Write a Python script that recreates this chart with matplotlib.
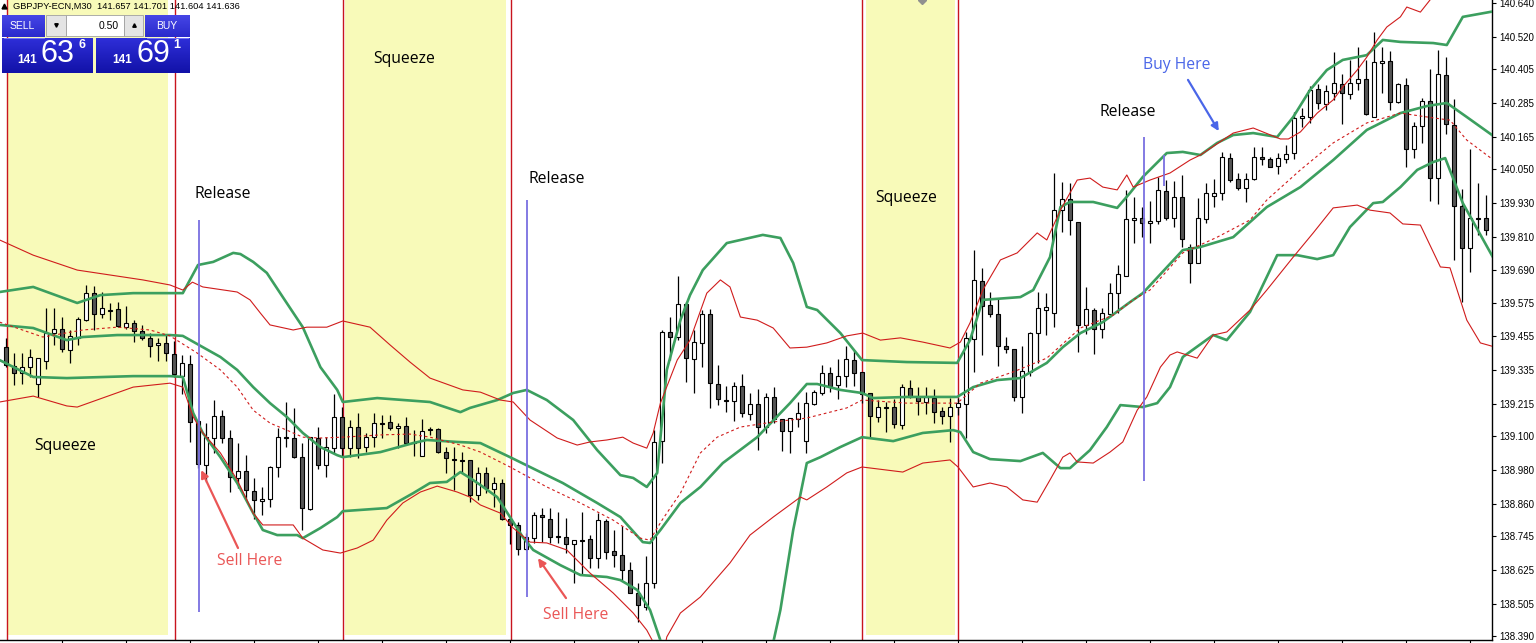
import numpy as np
import matplotlib
matplotlib.use("Agg")
import matplotlib.pyplot as plt
from matplotlib.patches import Rectangle
from matplotlib.colors import LinearSegmentedColormap

# GBPJPY M30 candles
opens = [139.418, 139.350, 139.325, 139.347, 139.286, 139.368, 139.467, 139.481, 139.407, 139.450,
	139.513, 139.609, 139.535, 139.545, 139.552, 139.489, 139.503, 139.474, 139.450, 139.425,
	139.432, 139.393, 139.315, 139.357, 139.154, 138.998, 139.094, 139.172, 139.094, 138.952,
	138.977, 138.906, 138.870, 138.877, 138.991, 139.094, 139.094, 139.026, 138.842, 139.094,
	138.998, 139.058, 139.169, 139.058, 139.133, 139.062, 139.097, 139.147, 139.151, 139.129,
	139.137, 139.080, 139.030, 139.126, 139.126, 139.044, 139.019, 139.016, 139.016, 138.891,
	138.970, 138.913, 138.934, 138.806, 138.785, 138.699, 138.738, 138.820, 138.806, 138.746,
	138.742, 138.717, 138.731, 138.735, 138.667, 138.799, 138.692, 138.678, 138.625, 138.543,
	138.493, 138.578, 139.083, 139.471, 139.453, 139.570, 139.375, 139.432, 139.535, 139.286,
	139.229, 139.225, 139.279, 139.179, 139.215, 139.133, 139.240, 139.161, 139.119, 139.161,
	139.083, 139.215, 139.254, 139.325, 139.282, 139.314, 139.371, 139.329, 139.254, 139.169,
	139.204, 139.204, 139.140, 139.272, 139.240, 139.222, 139.236, 139.190, 139.172, 139.204,
	139.215, 139.446, 139.652, 139.567, 139.535, 139.421, 139.410, 139.240, 139.329, 139.467,
	139.549, 139.538, 139.904, 139.944, 139.862, 139.496, 139.549, 139.481, 139.535, 139.609,
	139.670, 139.869, 139.876, 139.858, 139.865, 139.972, 139.876, 139.951, 139.773, 139.716,
	139.872, 139.954, 139.965, 140.089, 140.015, 139.983, 140.015, 140.093, 140.086, 140.061,
	140.086, 140.107, 140.232, 140.235, 140.335, 140.281, 140.320, 140.352, 140.317, 140.356,
	140.370, 140.235, 140.427, 140.434, 140.288, 140.349, 140.121, 140.203, 140.292, 140.018,
	140.384, 140.207, 139.919, 139.769, 139.876, 139.876]
highs = [139.450, 139.396, 139.396, 139.411, 139.378, 139.556, 139.556, 139.524, 139.478, 139.524,
	139.638, 139.634, 139.613, 139.574, 139.577, 139.563, 139.513, 139.496, 139.467, 139.450,
	139.464, 139.439, 139.389, 139.389, 139.154, 139.147, 139.229, 139.193, 139.122, 139.076,
	139.033, 138.952, 138.920, 138.994, 139.129, 139.222, 139.201, 139.076, 139.097, 139.133,
	139.097, 139.250, 139.204, 139.158, 139.183, 139.112, 139.183, 139.176, 139.176, 139.147,
	139.169, 139.122, 139.161, 139.133, 139.129, 139.062, 139.062, 139.044, 139.016, 138.991,
	138.991, 138.955, 138.948, 138.810, 138.795, 138.756, 138.831, 138.845, 138.845, 138.831,
	138.810, 138.731, 138.831, 138.749, 138.827, 138.806, 138.767, 138.781, 138.653, 138.578,
	138.674, 139.122, 139.478, 139.524, 139.670, 139.577, 139.478, 139.549, 139.552, 139.353,
	139.279, 139.293, 139.321, 139.254, 139.268, 139.254, 139.275, 139.161, 139.165, 139.222,
	139.257, 139.264, 139.353, 139.346, 139.375, 139.421, 139.407, 139.329, 139.254, 139.229,
	139.222, 139.233, 139.286, 139.300, 139.275, 139.275, 139.268, 139.204, 139.236, 139.236,
	139.471, 139.762, 139.698, 139.613, 139.592, 139.453, 139.410, 139.421, 139.471, 139.613,
	139.609, 140.036, 140.004, 140.000, 139.862, 139.631, 139.556, 139.556, 139.645, 139.709,
	139.976, 139.951, 139.915, 139.936, 140.022, 140.011, 140.008, 140.029, 139.784, 139.947,
	140.000, 140.015, 140.111, 140.107, 140.036, 140.036, 140.128, 140.128, 140.093, 140.107,
	140.135, 140.253, 140.267, 140.345, 140.352, 140.349, 140.466, 140.388, 140.438, 140.484,
	140.438, 140.537, 140.484, 140.470, 140.356, 140.374, 140.217, 140.303, 140.406, 140.473,
	140.448, 140.299, 139.979, 140.121, 140.000, 139.958]
lows = [139.347, 139.282, 139.286, 139.311, 139.240, 139.339, 139.425, 139.400, 139.361, 139.425,
	139.510, 139.478, 139.521, 139.513, 139.489, 139.481, 139.435, 139.442, 139.382, 139.368,
	139.368, 139.311, 139.250, 139.080, 138.987, 138.938, 139.041, 139.076, 138.902, 138.916,
	138.874, 138.806, 138.820, 138.849, 138.955, 139.062, 139.023, 138.767, 138.838, 138.984,
	138.955, 139.041, 139.026, 139.026, 139.023, 139.044, 139.062, 139.094, 139.122, 139.058,
	139.076, 139.030, 139.030, 139.105, 139.041, 138.970, 138.909, 138.970, 138.866, 138.874,
	138.898, 138.849, 138.802, 138.718, 138.678, 138.696, 138.721, 138.724, 138.721, 138.721,
	138.685, 138.578, 138.607, 138.632, 138.632, 138.664, 138.635, 138.589, 138.543, 138.440,
	138.483, 138.561, 139.005, 139.371, 139.442, 139.293, 139.254, 139.346, 139.201, 139.211,
	139.186, 139.154, 139.169, 139.158, 139.051, 139.112, 139.147, 139.048, 139.041, 139.133,
	139.041, 139.211, 139.247, 139.257, 139.233, 139.275, 139.279, 139.218, 139.098, 139.151,
	139.115, 139.129, 139.126, 139.236, 139.176, 139.179, 139.147, 139.144, 139.080, 139.176,
	139.094, 139.329, 139.389, 139.524, 139.350, 139.396, 139.225, 139.183, 139.314, 139.361,
	139.460, 139.489, 139.826, 139.816, 139.400, 139.464, 139.393, 139.450, 139.524, 139.538,
	139.670, 139.787, 139.808, 139.787, 139.855, 139.869, 139.844, 139.773, 139.645, 139.716,
	139.858, 139.915, 139.940, 140.004, 139.976, 139.933, 140.011, 140.064, 140.057, 140.032,
	140.072, 140.086, 140.200, 140.214, 140.264, 140.260, 140.296, 140.210, 140.299, 140.331,
	140.242, 140.235, 140.320, 140.260, 140.285, 140.057, 140.089, 140.143, 139.936, 139.926,
	140.175, 139.727, 139.577, 139.684, 139.816, 139.816]
closes = [139.354, 139.325, 139.347, 139.382, 139.378, 139.467, 139.481, 139.410, 139.457, 139.517,
	139.609, 139.535, 139.556, 139.549, 139.492, 139.503, 139.474, 139.450, 139.421, 139.432,
	139.396, 139.322, 139.361, 139.151, 139.002, 139.097, 139.172, 139.094, 138.955, 138.977,
	138.909, 138.874, 138.877, 138.991, 139.097, 139.097, 139.026, 138.845, 139.097, 138.998,
	139.062, 139.169, 139.058, 139.133, 139.058, 139.097, 139.147, 139.145, 139.129, 139.137,
	139.076, 139.078, 139.119, 139.124, 139.044, 139.023, 139.017, 139.014, 138.891, 138.970,
	138.916, 138.934, 138.806, 138.785, 138.699, 138.742, 138.820, 138.813, 138.742, 138.744,
	138.717, 138.731, 138.729, 138.667, 138.802, 138.689, 138.678, 138.625, 138.543, 138.500,
	138.578, 139.080, 139.471, 139.453, 139.570, 139.378, 139.435, 139.535, 139.289, 139.233,
	139.227, 139.279, 139.183, 139.215, 139.133, 139.240, 139.161, 139.119, 139.165, 139.183,
	139.218, 139.257, 139.325, 139.279, 139.314, 139.375, 139.325, 139.250, 139.172, 139.204,
	139.202, 139.144, 139.275, 139.240, 139.225, 139.240, 139.186, 139.172, 139.204, 139.218,
	139.450, 139.656, 139.563, 139.535, 139.421, 139.410, 139.240, 139.332, 139.467, 139.556,
	139.560, 139.904, 139.944, 139.869, 139.496, 139.552, 139.481, 139.538, 139.609, 139.677,
	139.872, 139.876, 139.858, 139.865, 139.976, 139.876, 139.951, 139.801, 139.716, 139.876,
	139.965, 139.965, 140.093, 140.011, 139.983, 140.015, 140.093, 140.086, 140.057, 140.089,
	140.104, 140.232, 140.239, 140.331, 140.285, 140.327, 140.356, 140.320, 140.356, 140.370,
	140.246, 140.431, 140.434, 140.288, 140.352, 140.121, 140.203, 140.292, 140.018, 140.388,
	140.210, 139.919, 139.769, 139.876, 139.874, 139.833]

# bollinger bands: bar index and price at the turning points of each line
green_up_x = [-0.8, 3.4, 8.9, 11.8, 15.9, 20.5, 22.1, 24.0, 25.9, 28.4, 29.3, 30.9, 32.6, 34.6, 37.1,
	39.3, 41.4, 42.1, 46.4, 53.0, 56.8, 58.0, 61.4, 63.4, 65.1, 67.6, 70.9, 73.9, 76.8, 78.4, 80.1,
	81.4, 82.6, 84.3, 85.5, 87.1, 90.1, 94.6, 96.8, 98.4, 100.1, 101.4, 104.3, 107.0, 112.6, 118.9,
	120.5, 122.1, 126.8, 128.4, 130.5, 131.8, 133.0, 135.9, 138.9, 140.5, 142.1, 145.1, 147.1, 149.3,
	151.4, 153.4, 155.9, 158.9, 160.9, 163.0, 165.1, 167.1, 170.1, 172.1, 174.3, 178.4, 180.1, 182.1, 185.8]
green_up = [139.613, 139.631, 139.574, 139.602, 139.609, 139.609, 139.609, 139.709, 139.720, 139.752, 139.748,
	139.720, 139.681, 139.595, 139.488, 139.346, 139.265, 139.222, 139.236, 139.222, 139.186, 139.201,
	139.229, 139.254, 139.265, 139.229, 139.158, 139.051, 138.962, 138.952, 138.920, 138.970, 139.336,
	139.513, 139.602, 139.691, 139.787, 139.816, 139.805, 139.716, 139.560, 139.549, 139.467, 139.371,
	139.364, 139.361, 139.442, 139.585, 139.595, 139.620, 139.737, 139.915, 139.933, 139.933, 139.912,
	139.965, 140.022, 140.107, 140.111, 140.100, 140.143, 140.171, 140.178, 140.164, 140.235, 140.331,
	140.402, 140.438, 140.455, 140.509, 140.502, 140.498, 140.491, 140.591, 140.610]
green_mid_x = [-0.8, 3.4, 7.6, 9.6, 13.9, 20.5, 22.1, 24.6, 26.8, 28.9, 30.9, 33.0, 35.1, 37.1, 39.3,
	41.4, 42.1, 46.8, 50.9, 52.6, 56.4, 59.3, 63.0, 65.5, 69.6, 73.9, 76.8, 79.6, 80.5, 81.8, 84.3,
	86.8, 89.6, 93.9, 98.0, 100.1, 101.4, 104.3, 107.0, 108.4, 112.6, 118.9, 120.9, 123.9, 126.8,
	130.1, 132.1, 134.3, 137.1, 140.5, 142.1, 147.1, 149.3, 153.4, 157.6, 161.8, 165.9, 170.1,
	174.3, 177.6, 180.1, 182.6, 185.8]
green_mid = [139.496, 139.485, 139.442, 139.453, 139.460, 139.460, 139.457, 139.417, 139.382, 139.336,
	139.275, 139.218, 139.169, 139.112, 139.062, 139.033, 139.026, 139.044, 139.076, 139.087, 139.080,
	139.076, 139.026, 138.991, 138.934, 138.863, 138.813, 138.724, 138.721, 138.767, 138.863, 138.920,
	139.005, 139.097, 139.218, 139.286, 139.286, 139.265, 139.254, 139.236, 139.240, 139.240, 139.275,
	139.300, 139.307, 139.361, 139.417, 139.467, 139.506, 139.577, 139.609, 139.762, 139.773, 139.808,
	139.915, 139.986, 140.082, 140.189, 140.249, 140.274, 140.285, 140.235, 140.170]
green_low_x = [-0.8, 3.4, 7.6, 15.9, 20.5, 22.1, 23.4, 24.6, 26.8, 28.9, 30.9, 32.1, 33.9, 36.4, 37.1,
	39.3, 41.4, 42.1, 47.6, 50.9, 53.0, 55.1, 56.8, 58.0, 59.3, 61.4, 63.0, 64.6, 65.9, 69.3, 71.8,
	75.1, 76.8, 78.9, 80.5, 82.0, 86.8, 94.3, 96.8, 98.4, 100.1, 101.8, 104.3, 107.0, 110.9, 114.6,
	118.4, 119.3, 120.9, 123.0, 126.8, 129.6, 131.8, 133.0, 135.5, 137.6, 139.3, 142.1, 143.9, 145.5,
	147.1, 150.9, 152.6, 155.5, 158.9, 161.4, 163.9, 165.9, 168.0, 170.9, 172.1, 174.3, 176.4,
	178.4, 179.9, 182.1, 185.8]
green_low = [139.371, 139.311, 139.307, 139.314, 139.314, 139.311, 139.183, 139.112, 139.026, 138.934,
	138.827, 138.767, 138.749, 138.749, 138.738, 138.774, 138.813, 138.834, 138.845, 138.898, 138.934,
	138.938, 138.973, 138.952, 138.927, 138.884, 138.813, 138.742, 138.696, 138.642, 138.607, 138.600,
	138.589, 138.554, 138.483, 138.358, 138.090, 138.160, 138.483, 138.767, 139.005, 139.026, 139.062,
	139.097, 139.083, 139.112, 139.122, 139.115, 139.044, 139.019, 139.012, 139.041, 138.987, 138.987,
	139.051, 139.133, 139.211, 139.204, 139.218, 139.275, 139.382, 139.460, 139.442, 139.542, 139.744,
	139.744, 139.730, 139.744, 139.844, 139.929, 139.933, 139.986, 140.047, 140.075, 140.089, 139.929,
	139.740]
red_up_x = [-0.8, 3.4, 8.9, 17.1, 20.5, 22.1, 23.3, 24.6, 28.9, 30.5, 31.8, 33.0, 35.9, 37.6, 40.1,
	42.1, 45.5, 48.0, 50.5, 53.0, 57.1, 59.3, 61.8, 63.4, 65.5, 68.9, 71.4, 73.0, 75.1, 77.1, 78.4,
	80.1, 80.9, 81.8, 83.9, 85.5, 87.6, 89.3, 90.5, 91.8, 93.9, 95.9, 98.0, 100.1, 102.6, 105.1,
	107.1, 109.3, 111.8, 114.6, 118.0, 119.3, 120.5, 122.1, 124.3, 126.4, 128.9, 130.1, 131.8, 133.9,
	135.5, 137.1, 138.9, 140.1, 140.9, 143.0, 145.5, 148.0, 149.3, 153.4, 155.9, 159.3, 160.3, 161.8,
	163.9, 165.9, 167.1, 168.9, 170.1, 171.4, 172.6, 174.3, 175.1, 176.8, 178.0, 180.5, 185.8]
red_up = [139.798, 139.744, 139.691, 139.656, 139.638, 139.620, 139.648, 139.631, 139.613, 139.585, 139.538,
	139.496, 139.478, 139.488, 139.488, 139.510, 139.488, 139.425, 139.364, 139.307, 139.265, 139.257,
	139.229, 139.222, 139.158, 139.094, 139.069, 139.080, 139.087, 139.097, 139.076, 139.058, 139.112,
	139.218, 139.371, 139.442, 139.609, 139.656, 139.631, 139.524, 139.513, 139.485, 139.414, 139.417,
	139.432, 139.457, 139.467, 139.442, 139.450, 139.435, 139.414, 139.435, 139.503, 139.620, 139.727,
	139.752, 139.823, 139.798, 139.904, 140.011, 140.018, 139.986, 139.976, 140.029, 139.986, 140.011,
	140.036, 140.082, 140.100, 140.178, 140.196, 140.157, 140.157, 140.182, 140.249, 140.296, 140.342,
	140.402, 140.448, 140.509, 140.555, 140.591, 140.626, 140.608, 140.651, 140.758, 140.830]
red_mid_x = [-0.8, 4.6, 9.6, 13.9, 18.0, 20.5, 23.9, 26.8, 28.9, 30.9, 33.0, 35.1, 37.1, 39.3, 42.1,
	46.8, 50.5, 53.0, 56.8, 59.3, 63.0, 67.6, 71.8, 75.9, 79.3, 80.5, 82.0, 84.3, 86.8, 88.9, 91.8,
	95.9, 100.1, 102.6, 105.1, 107.0, 112.6, 118.9, 121.8, 125.9, 130.1, 134.3, 138.4, 140.9, 143.0,
	147.1, 151.4, 155.5, 157.6, 161.8, 165.9, 170.1, 174.3, 178.4, 180.5, 182.6, 185.8]
red_mid = [139.506, 139.453, 139.478, 139.488, 139.478, 139.457, 139.396, 139.336, 139.275, 139.193,
	139.147, 139.122, 139.097, 139.094, 139.097, 139.105, 139.108, 139.097, 139.069, 139.044, 138.991,
	138.920, 138.863, 138.802, 138.738, 138.731, 138.802, 138.898, 139.041, 139.097, 139.133, 139.151,
	139.165, 139.183, 139.201, 139.229, 139.218, 139.218, 139.289, 139.329, 139.378, 139.485, 139.531,
	139.585, 139.620, 139.752, 139.808, 139.869, 139.940, 140.047, 140.143, 140.214, 140.249, 140.232,
	140.224, 140.153, 140.085]
red_low_x = [-0.8, 3.4, 7.6, 8.9, 15.9, 20.5, 22.1, 23.4, 24.6, 26.8, 28.9, 30.9, 32.1, 35.9, 37.1,
	39.6, 41.8, 43.9, 45.9, 47.6, 49.6, 51.8, 53.9, 56.4, 58.0, 59.3, 61.8, 63.4, 65.5, 67.6, 70.1,
	73.0, 75.9, 78.4, 80.1, 81.1, 82.0, 82.6, 84.3, 86.8, 90.5, 93.0, 95.9, 99.3, 100.1, 102.6,
	105.1, 107.0, 112.1, 114.6, 118.0, 119.0, 120.9, 123.0, 125.1, 127.1, 128.9, 130.5, 132.1, 133.0,
	133.9, 135.9, 138.0, 139.6, 141.4, 142.6, 144.3, 145.5, 146.4, 148.9, 150.9, 152.6, 155.5, 157.6,
	160.9, 163.4, 165.9, 168.9, 170.5, 173.0, 174.6, 176.8, 179.3, 180.5, 182.6, 184.3, 185.8]
red_low = [139.222, 139.243, 139.208, 139.204, 139.275, 139.289, 139.275, 139.169, 139.112, 139.041,
	138.945, 138.827, 138.785, 138.785, 138.738, 138.696, 138.685, 138.703, 138.731, 138.802, 138.863,
	138.902, 138.923, 138.902, 138.884, 138.856, 138.827, 138.774, 138.724, 138.721, 138.696, 138.614,
	138.543, 138.472, 138.411, 138.358, 138.300, 138.387, 138.472, 138.529, 138.650, 138.749, 138.813,
	138.884, 138.874, 138.920, 138.970, 138.991, 138.973, 139.005, 139.016, 138.991, 138.920, 138.934,
	138.920, 138.874, 138.866, 138.945, 139.026, 139.041, 139.009, 139.005, 139.044, 139.080, 139.193,
	139.240, 139.346, 139.389, 139.400, 139.378, 139.460, 139.471, 139.549, 139.620, 139.737, 139.823,
	139.912, 139.922, 139.904, 139.894, 139.855, 139.851, 139.702, 139.699, 139.513, 139.432, 139.420]

price_ticks = [140.640, 140.520, 140.405, 140.285, 140.165, 140.050, 139.930, 139.810, 139.690, 139.575,
	139.455, 139.335, 139.215, 139.100, 138.980, 138.860, 138.745, 138.625, 138.505, 138.390]

# shaded squeeze zones (bar index from, to) and marker lines
squeeze_zones = [(0.25, 20.25), (42.4, 62.5), (107.5, 118.6)]
red_marks = [0.125, 21.1, 42.1, 63.1, 107.0, 119.0]

GREEN = '#3c9f5f'
RED = '#d01c1c'
YELLOW = '#f8fab9'
VLINE_RED = '#c8141e'
BLUE_LINE = '#7a70e0'
BLUE_TXT = '#4a66e8'
SELL_TXT = '#ea5656'
LBL_FONT = ['Open Sans', 'DejaVu Sans']


def draw_candles(ax):
	x = np.arange(len(opens))
	o = np.array(opens)
	c = np.array(closes)
	ax.vlines(x, lows, highs, color='black', linewidth=0.9, zorder=3)
	body = c - o
	body = np.where(np.abs(body) < 0.003, np.where(body < 0, -0.003, 0.003), body)
	colors = np.where(c < o, '#555555', 'white')
	ax.bar(x, body, bottom=o, width=0.62, color=colors, edgecolor='black', linewidth=0.8, zorder=4)


def draw_bands(ax):
	ax.plot(green_up_x, green_up, color=GREEN, lw=1.9, zorder=5)
	ax.plot(green_mid_x, green_mid, color=GREEN, lw=1.9, zorder=5)
	ax.plot(green_low_x, green_low, color=GREEN, lw=1.9, zorder=5)
	ax.plot(red_up_x, red_up, color=RED, lw=0.8, zorder=5)
	ax.plot(red_low_x, red_low, color=RED, lw=0.8, zorder=5)
	ax.plot(red_mid_x, red_mid, color=RED, lw=0.8, ls=(0, (2.5, 2.5)), zorder=5)


def draw_marks(ax):
	top = 140.651
	for a, b in squeeze_zones:
		ax.add_patch(Rectangle((a, 138.395), b - a, top - 138.395, facecolor=YELLOW, edgecolor='none', zorder=0))
	for xm in red_marks:
		ax.axvline(xm, color=VLINE_RED, lw=1.0, zorder=1)
	# blue release lines
	ax.vlines([24.1, 65.1, 142.25], [138.475, 138.529, 138.941], [139.869, 139.940, 140.164],
		color=BLUE_LINE, lw=1.3, zorder=6)
	ax.vlines([144.75], [139.99], [140.10], color=BLUE_LINE, lw=1.3, zorder=6)
	ax.plot([114.5], [140.651], marker='D', color='#909090', ms=4, clip_on=False, zorder=7)

	for xt, yt in [(7.4, 139.065), (49.75, 140.441), (112.5, 139.947)]:
		ax.text(xt, yt, 'Squeeze', fontsize=11.3, family=LBL_FONT, ha='center', va='center', zorder=8)
	for xt, yt in [(27.1, 139.961), (68.9, 140.015), (140.25, 140.253)]:
		ax.text(xt, yt, 'Release', fontsize=11.3, family=LBL_FONT, ha='center', va='center', zorder=8)
	ax.text(146.4, 140.420, 'Buy Here', fontsize=11.3, family=LBL_FONT, color=BLUE_TXT, ha='center', va='center', zorder=8)
	ax.text(30.4, 138.657, 'Sell Here', fontsize=11.3, family=LBL_FONT, color=SELL_TXT, ha='center', va='center', zorder=8)
	ax.text(71.25, 138.465, 'Sell Here', fontsize=11.3, family=LBL_FONT, color=SELL_TXT, ha='center', va='center', zorder=8)

	arrow = dict(arrowstyle='-|>', lw=1.6, mutation_scale=11, shrinkA=0, shrinkB=0)
	ax.annotate('', xy=(151.6, 140.185), xytext=(147.75, 140.367), arrowprops=dict(arrow, color=BLUE_TXT), zorder=8)
	ax.annotate('', xy=(24.4, 138.980), xytext=(29.0, 138.703), arrowprops=dict(arrow, color=SELL_TXT), zorder=8)
	ax.annotate('', xy=(66.5, 138.667), xytext=(70.0, 138.525), arrowprops=dict(arrow, color=SELL_TXT), zorder=8)


def blue_box(ov, x0, y0, w, h, cmap):
	grad = np.linspace(0, 1, 32).reshape(-1, 1)
	ov.imshow(grad, extent=(x0, x0 + w, y0 + h, y0), aspect='auto', cmap=cmap, origin='upper', zorder=1)


def draw_panel(fig):
	# one-click trading box in the top left corner, in pixels
	ov = fig.add_axes([0, 0, 1, 1])
	ov.axis('off')
	btn_cmap = LinearSegmentedColormap.from_list('btn', ['#4646e6', '#2a2acc'])
	big_cmap = LinearSegmentedColormap.from_list('big', ['#2e2ed8', '#1212a8'])
	blue_box(ov, 2, 15, 43, 22, btn_cmap)
	blue_box(ov, 145, 15, 45, 22, btn_cmap)
	blue_box(ov, 2, 38, 91, 35, big_cmap)
	blue_box(ov, 96, 38, 94, 35, big_cmap)
	ov.add_patch(Rectangle((46, 15), 20, 21, facecolor='#e4e4e4', edgecolor='#a0a0a0', lw=0.6, zorder=2))
	ov.add_patch(Rectangle((66, 15), 58, 21, facecolor='white', edgecolor='#a0a0a0', lw=0.6, zorder=2))
	ov.add_patch(Rectangle((124, 15), 19, 21, facecolor='#e4e4e4', edgecolor='#a0a0a0', lw=0.6, zorder=2))
	ov.plot([56], [25], marker='v', color='black', ms=2.5, zorder=3)
	ov.plot([133.5], [25], marker='^', color='black', ms=2.5, zorder=3)
	ov.plot([4, 44], [37.5, 37.5], color='#8080ff', lw=0.6, zorder=3)
	ov.plot([147, 188], [37.5, 37.5], color='#8080ff', lw=0.6, zorder=3)
	ov.plot([4], [6], marker='^', color='black', ms=3.5, zorder=3)
	ov.text(13, 6.5, 'GBPJPY-ECN,M30  141.657 141.701 141.604 141.636', fontsize=6.7,
		family='Liberation Sans', va='center', ha='left', zorder=3)
	ov.text(22, 26, 'SELL', color='white', fontsize=7.5, family='Liberation Sans', ha='center', va='center', zorder=3)
	ov.text(167, 26, 'BUY', color='white', fontsize=7.5, family='Liberation Sans', ha='center', va='center', zorder=3)
	ov.text(119, 26, '0.50', color='black', fontsize=7.5, family='Liberation Sans', ha='right', va='center', zorder=3)
	for x0, big_txt, sup in [(0, '63', '6'), (95, '69', '1')]:
		ov.text(x0 + 27, 60, '141', color='white', fontsize=8.5, fontweight='bold', family='Liberation Sans', ha='center', va='center', zorder=3)
		ov.text(x0 + 58, 54, big_txt, color='white', fontsize=22, family='Liberation Sans', ha='center', va='center', zorder=3)
		ov.text(x0 + 82, 45, sup, color='white', fontsize=9, fontweight='bold', family='Liberation Sans', ha='center', va='center', zorder=3)
	ov.set_xlim(0, 1536)
	ov.set_ylim(643, 0)


def make_chart():
	fig = plt.figure(figsize=(15.36, 6.43), dpi=100)
	ax = fig.add_axes([0, 3 / 643, 1492 / 1536, 640 / 643])
	draw_marks(ax)
	draw_bands(ax)
	draw_candles(ax)
	ax.set_xlim(-0.75, 185.75)
	ax.set_ylim(138.376, 140.651)
	ax.yaxis.tick_right()
	ax.set_yticks(price_ticks)
	ax.set_yticklabels(['%.3f' % t for t in price_ticks], fontsize=7, family='Liberation Sans')
	ax.set_xticks(np.arange(7, 186, 8))
	ax.set_xticklabels([])
	ax.tick_params(axis='y', length=3, width=0.8, pad=2, direction='out')
	ax.tick_params(axis='x', length=3, width=0.8, direction='out')
	for s in ['top', 'left']:
		ax.spines[s].set_visible(False)
	for s in ['right', 'bottom']:
		ax.spines[s].set_color('black')
		ax.spines[s].set_linewidth(1.0)
	draw_panel(fig)
	fig.savefig('out.png', dpi=100, facecolor='white')


if __name__ == '__main__':
	make_chart()
